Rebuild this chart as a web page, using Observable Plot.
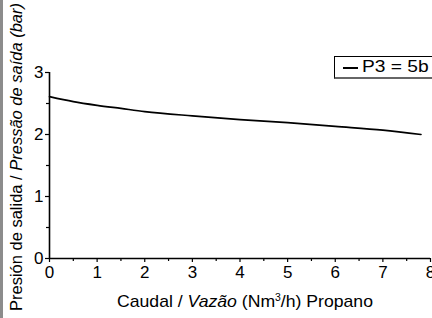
<!DOCTYPE html>
<html>
<head>
<meta charset="utf-8">
<script src="https://cdn.jsdelivr.net/npm/d3@7"></script>
<script src="https://cdn.jsdelivr.net/npm/@observablehq/plot@0.6"></script>
<style>
  html, body { margin: 0; padding: 0; background: #fff; }
  #wrap { position: relative; width: 432px; height: 318px; overflow: hidden; font-family: "Liberation Sans", Arial, sans-serif; }
  #strip { position: absolute; left: 0; top: 0; width: 3px; height: 318px; background: #8c8c8c; }
  #legend { position: absolute; left: 334px; top: 56px; width: 110px; height: 20px; border: 1px solid #000; border-bottom: 2px solid #666; background: #fff; font-size: 16px; line-height: 20px; color: #000; white-space: nowrap; }
  #legend .sw { position: absolute; left: 8px; top: 10px; width: 15px; height: 0; border-top: 2px solid #000; }
  #legend .tx { position: absolute; left: 27px; top: 0; transform: scaleX(1.2); transform-origin: 0 0; }
</style>
</head>
<body>
<div id="wrap"><div id="strip"></div></div>
<script>
const flow = [0, 0.5, 1, 1.5, 2, 3, 4, 5, 6, 7, 7.8];
const pressure = [2.61, 2.53, 2.47, 2.42, 2.37, 2.30, 2.24, 2.19, 2.13, 2.07, 2.00];
const xTicks = [0, 1, 2, 3, 4, 5, 6, 7, 8];
const xMinor = [0.5, 1.5, 2.5, 3.5, 4.5, 5.5, 6.5, 7.5];
const yTicks = [0, 1, 2, 3];
const yMinor = [0.5, 1.5, 2.5];
const seriesName = "P3 = 5b";

const data = flow.map((f, i) => ({x: f, y: pressure[i]}));

const chart = Plot.plot({
  width: 432,
  height: 318,
  marginLeft: 49,
  marginRight: 2,
  marginTop: 72,
  marginBottom: 60,
  style: {fontFamily: "'Liberation Sans', Arial, sans-serif", fontSize: "16px", color: "#000", background: "transparent", overflow: "visible"},
  x: {domain: [0, 8]},
  y: {domain: [0, 3]},
  marks: [
    Plot.axisX({ticks: xMinor, tickSize: 3, text: null, label: null, strokeWidth: 1.2}),
    Plot.axisX({ticks: xTicks, tickSize: 4, tickPadding: 3, tickFormat: d3.format("d"), label: null, fontSize: 17, strokeWidth: 1.2}),
    Plot.axisY({ticks: yMinor, tickSize: 3, text: null, label: null, strokeWidth: 1.2}),
    Plot.axisY({ticks: yTicks, tickSize: 4, tickPadding: 2, tickFormat: d3.format("d"), label: null, fontSize: 17, strokeWidth: 1.2}),
    Plot.ruleY([0], {stroke: "#000", strokeWidth: 1.6, x1: 0, x2: 8}),
    Plot.ruleX([0], {stroke: "#000", strokeWidth: 1.6, y1: 0, y2: 3}),
    Plot.line(data, {x: "x", y: "y", stroke: "#000", strokeWidth: 1.7, curve: "monotone-x"})
  ]
});

const svg = d3.select(chart);
svg.style("position", "absolute").style("left", "0px").style("top", "0px");
// y label
const yl = svg.append("text")
  .attr("transform", "translate(22,157) rotate(-90)")
  .attr("text-anchor", "middle")
  .attr("font-size", 16)
  .attr("fill", "#000")
  .attr("textLength", 308)
  .attr("lengthAdjust", "spacingAndGlyphs");
yl.append("tspan").text("Presión de salida / ");
yl.append("tspan").attr("font-style", "italic").text("Pressão de saída (bar)");
// x label
const xl = svg.append("text")
  .attr("x", 245).attr("y", 307)
  .attr("text-anchor", "middle")
  .attr("font-size", 17)
  .attr("fill", "#000")
  .attr("textLength", 256)
  .attr("lengthAdjust", "spacingAndGlyphs");
xl.append("tspan").text("Caudal / ");
xl.append("tspan").attr("font-style", "italic").text("Vazão");
xl.append("tspan").text(" (Nm");
xl.append("tspan").attr("font-size", 10).attr("dy", -6).text("3");
xl.append("tspan").attr("dy", 6).text("/h) Propano");

const wrap = document.getElementById("wrap");
wrap.appendChild(chart);
const leg = document.createElement("div");
leg.id = "legend";
leg.innerHTML = '<span class="sw"></span><span class="tx">' + seriesName + '</span>';
wrap.appendChild(leg);
</script>
</body>
</html>
